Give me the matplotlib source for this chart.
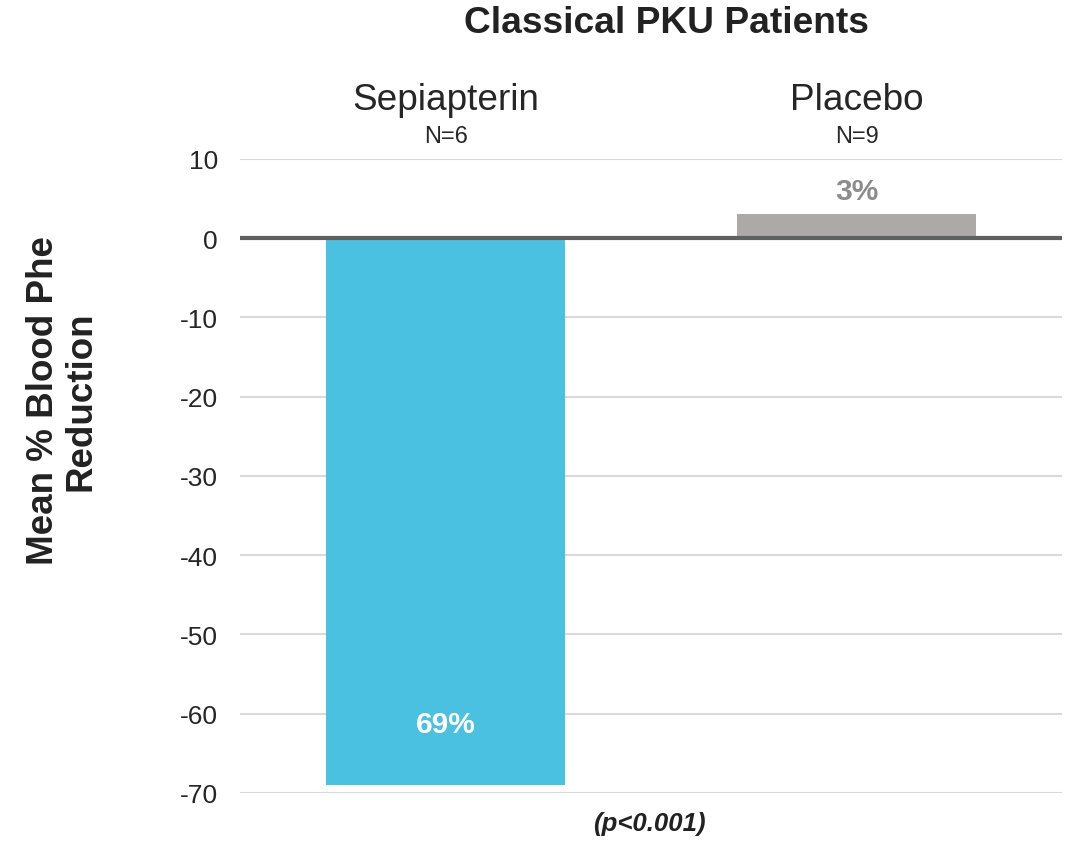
import matplotlib.pyplot as plt

plt.rcParams["font.family"] = ["Liberation Sans", "DejaVu Sans"]

groups = ["Sepiapterin", "Placebo"]
n_labels = ["N=6", "N=9"]
values = [-69, 3]
value_labels = ["69%", "3%"]
yticks = [10, 0, -10, -20, -30, -40, -50, -60, -70]

bar_colors = ["#4BC1E1", "#ADA9A8"]
label_colors = ["white", "#8C8C8C"]


def main():
    fig = plt.figure(figsize=(10.74, 8.45), dpi=100)
    ax = fig.add_axes([0.2235, 0.0604, 0.7655, 0.7503])

    x = range(len(groups))
    ax.bar(x, values, width=0.58, color=bar_colors, zorder=2)

    ax.set_xlim(-0.5, 1.5)
    ax.set_ylim(-70, 10)
    ax.set_yticks(yticks)
    ax.set_yticklabels([str(v) for v in yticks], fontsize=19, color="#262626")
    ax.tick_params(axis="y", length=0, pad=16)
    ax.set_xticks([])
    ax.grid(True, axis="y", color="#D9D9D9", linewidth=1.5, zorder=0)
    for s in ax.spines.values():
        s.set_visible(False)
    ax.axhline(0, color="#606060", linewidth=3, zorder=3)

    # value labels (baseline positions in data units)
    label_y = [-62.3, 5.0]
    for i, (txt, c) in enumerate(zip(value_labels, label_colors)):
        ax.text(i, label_y[i], txt, ha="center", va="baseline",
                fontsize=21.5, fontweight="bold", color=c, zorder=4)

    # group headers
    for i, (g, n) in enumerate(zip(groups, n_labels)):
        ax.text(i, 16.3, g, ha="center", va="baseline", fontsize=26.6, color="#262626")
        ax.text(i, 12.2, n, ha="center", va="baseline", fontsize=17, color="#262626")

    fig.text(666 / 1074, 1 - 33 / 845, "Classical PKU Patients", ha="center",
             va="baseline", fontsize=26.7, fontweight="bold", color="#222222")
    fig.text(62 / 1074, 1 - 401 / 845, "Mean % Blood Phe\nReduction", ha="center",
             va="center", rotation=90, fontsize=26.5, fontweight="bold",
             color="#222222", linespacing=1.1)
    fig.text(649 / 1074, 1 - 824 / 845, "(p<0.001)", ha="center", va="center",
             fontsize=18.5, fontweight="bold", style="italic", color="#222222")

    fig.savefig("out.png", dpi=100)


if __name__ == "__main__":
    main()
